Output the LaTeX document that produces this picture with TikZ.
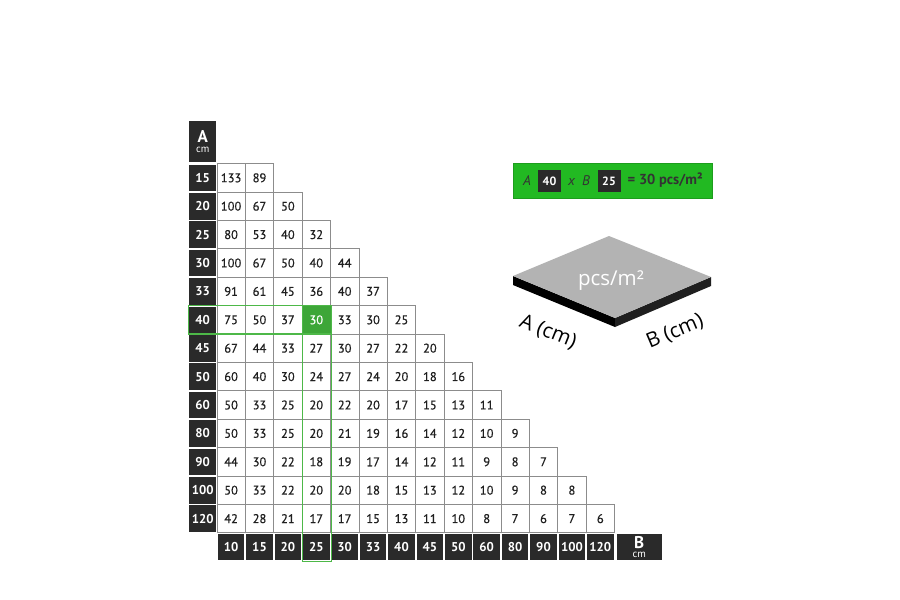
\documentclass[tikz,border=0pt]{standalone}
\usepackage{fontspec}
\setmainfont{PT Sans}
\newfontfamily\cellfont[FakeBold=0.6]{PT Sans}
\newfontfamily\slabfont{Open Sans}
\definecolor{hdrc}{HTML}{2A2A2A}
\definecolor{cellline}{HTML}{8C8C8C}
\definecolor{hiline}{HTML}{4DB848}
\definecolor{hifill}{HTML}{3DA638}
\definecolor{formfill}{HTML}{22B922}
\definecolor{slabtop}{HTML}{B3B3B3}
\begin{document}
\begin{tikzpicture}[x=1pt,y=-1pt,
  cell/.style={draw=cellline, line width=0.8pt, fill=white, minimum width=28.4pt, minimum height=28.4pt, inner sep=0pt, text=black!88, font=\cellfont\fontsize{12.5}{12.5}\selectfont},
  hicell/.style={cell, fill=hifill, draw=hifill, text=white},
  hdr/.style={fill=hdrc, minimum width=26.6pt, minimum height=26.6pt, inner sep=0pt, text=white, font=\bfseries\fontsize{12.8}{12.8}\selectfont},
  hiout/.style={draw=hiline, line width=1.2pt},
  formbox/.style={fill=hdrc, minimum width=23pt, minimum height=22pt, inner sep=0pt, text=white, font=\bfseries\fontsize{12}{12}\selectfont},
  formtxt/.style={inner sep=0pt, text=black!80, font=\fontsize{14}{14}\selectfont},
  slablabel/.style={inner sep=0pt, text=black, font=\slabfont\fontsize{20.5}{20.5}\selectfont}
]
\useasboundingbox (0,0) rectangle (900,600);
\fill[white] (0,0) rectangle (900,600);

% value cells
\foreach \a/\vals [count=\r] in {
  15/{133,89},
  20/{100,67,50},
  25/{80,53,40,32},
  30/{100,67,50,40,44},
  33/{91,61,45,36,40,37},
  40/{75,50,37,30,33,30,25},
  45/{67,44,33,27,30,27,22,20},
  50/{60,40,30,24,27,24,20,18,16},
  60/{50,33,25,20,22,20,17,15,13,11},
  80/{50,33,25,20,21,19,16,14,12,10,9},
  90/{44,30,22,18,19,17,14,12,11,9,8,7},
  100/{50,33,22,20,20,18,15,13,12,10,9,8,8},
  120/{42,28,21,17,17,15,13,11,10,8,7,6,7,6}} {
  \node[hdr] (a\r) at (188.5+14.2, 163.6+28.4*\r-14.2) {\a};
  \foreach \v [count=\c] in \vals {
    \node[cell] (c-\r-\c) at (188.5+28.4*\c+14.2, 163.6+28.4*\r-14.2) {\v};
  }
}
% highlighted cell
\node[hicell] (hit) at (188.5+28.4*4+14.2, 163.6+28.4*6-14.2) {30};

% B headers
\foreach \b [count=\c] in {10,15,20,25,30,33,40,45,50,60,80,90,100,120} {
  \node[hdr] (b\c) at (188.5+28.4*\c+14.2, 163.6+28.4*14-14.2) {\b};
}
% axis headers
\node[hdr, minimum height=41pt, align=center] (ahead) at (202.7, 141.5)
  {\fontsize{17}{17}\selectfont A\\[-3pt]{\mdseries\fontsize{10.5}{10.5}\selectfont cm}};
\node[hdr, minimum width=45pt, align=center] (bhead) at (639.2, 547)
  {\fontsize{17}{17}\selectfont B\\[-3pt]{\mdseries\fontsize{10.5}{10.5}\selectfont cm}};

% green outlines
\draw[hiout] (188.5,305.6) rectangle (331.1,334.0);
\draw[hiout] (302.7,305.6) rectangle (331.1,561.2);

% formula box
\node[fill=formfill, draw=formfill!85!black, line width=0.6pt, minimum width=199pt, minimum height=35pt, inner sep=0pt] (form) at (613, 180.5) {};
\node[formtxt, font=\itshape\fontsize{14}{14}\selectfont] (fa) at (527, 181) {A};
\node[formbox] (f40) at (549.5, 181) {40};
\node[formtxt, font=\itshape\fontsize{14}{14}\selectfont] (fx) at (571.5, 182) {x};
\node[formtxt, font=\itshape\fontsize{14}{14}\selectfont] (fb) at (586, 181) {B};
\node[formbox] (f25) at (609, 181) {25};
\node[formtxt, font=\bfseries\fontsize{14.5}{14.5}\selectfont, anchor=west] (fres) at (627.5, 180.5) {= 30 pcs/m²};

% slab
\coordinate (sL) at (513,276);
\coordinate (sB) at (615,318);
\coordinate (sR) at (711,277);
\coordinate (sT) at (609,236);
\fill[black] (sL) -- (sB) -- ([yshift=-9pt]sB) -- ([yshift=-9pt]sL) -- cycle;
\fill[black!88] (sB) -- (sR) -- ([yshift=-9pt]sR) -- ([yshift=-9pt]sB) -- cycle;
\fill[slabtop] (sL) -- (sT) -- (sR) -- (sB) -- cycle;
\node[slablabel, text=white] (pcs) at (611, 281) {pcs/m²};
\node[slablabel, rotate=-22] (alab) at (548, 332) {A (cm)};
\node[slablabel, rotate=23] (blab) at (675, 332) {B (cm)};
\end{tikzpicture}
\end{document}
